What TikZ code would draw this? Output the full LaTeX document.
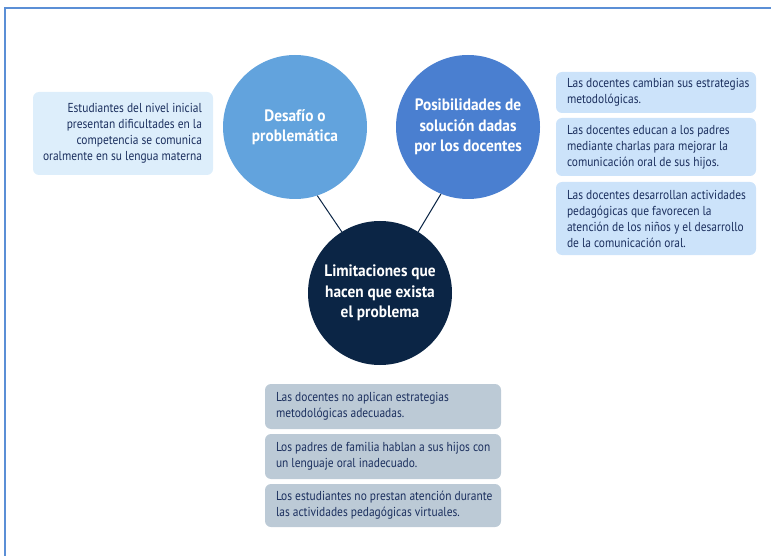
\documentclass[tikz,border=0pt]{standalone}
\usepackage{fontspec}
\setmainfont{PT Sans}[FakeStretch=0.88]
\newfontfamily\circfont{PT Sans}[FakeStretch=0.93]
\definecolor{frameblue}{HTML}{5B8FD6}
\definecolor{cone}{HTML}{62A3DD}
\definecolor{ctwo}{HTML}{4A7FD0}
\definecolor{cthree}{HTML}{0B2545}
\definecolor{navytxt}{HTML}{1B2F5E}
\definecolor{boxleft}{HTML}{DDEEFB}
\definecolor{boxright}{HTML}{CCE3FA}
\definecolor{boxbottom}{HTML}{BCCAD6}
\begin{document}
\begin{tikzpicture}[x=1pt,y=-1pt,
  bigcirc/.style={circle,minimum size=144pt,inner sep=0pt,text=white,
    font=\circfont\fontsize{16.5}{20.5}\selectfont\bfseries,align=center},
  infobox/.style={rounded corners=6pt,inner sep=0pt,text=navytxt,
    font=\fontsize{13}{16}\selectfont},
  link/.style={draw=cthree,line width=1pt}]
\useasboundingbox (0,0) rectangle (771,556);
\draw[frameblue,line width=1.2pt] (5,556) -- (5,8) -- (771,8);

\node[bigcirc,fill=cone] (c1) at (295,127) {Desafío o\\problemática};
\node[bigcirc,fill=ctwo] (c2) at (468,127) {Posibilidades de\\solución dadas\\por los docentes};
\node[bigcirc,fill=cthree] (c3) at (380,293) {Limitaciones que\\hacen que exista\\el problema};

\draw[link] (c1.-72) -- (c3.122);
\draw[link] (c2.-112) -- (c3.58);

\node[infobox,fill=boxleft,minimum width=180pt,minimum height=83pt] (l1) at (123,133.5) {};
\node[infobox,align=right,anchor=east] (l1t) at ([xshift=-11pt]l1.east) {Estudiantes del nivel inicial\\presentan dificultades en la\\competencia se comunica\\oralmente en su lengua materna};

\node[infobox,fill=boxright,minimum width=200pt,minimum height=41pt] (r1) at (656,92.5) {};
\node[infobox,align=left,anchor=west] (r1t) at ([xshift=11pt]r1.west) {Las docentes cambian sus estrategias\\metodológicas.};
\node[infobox,fill=boxright,minimum width=200pt,minimum height=58pt] (r2) at (656,147) {};
\node[infobox,align=left,anchor=west] (r2t) at ([xshift=11pt]r2.west) {Las docentes educan a los padres\\mediante charlas para mejorar la\\comunicación oral de sus hijos.};
\node[infobox,fill=boxright,minimum width=200pt,minimum height=73pt] (r3) at (656,218.5) {};
\node[infobox,align=left,anchor=west] (r3t) at ([xshift=11pt]r3.west) {Las docentes desarrollan actividades\\pedagógicas que favorecen la\\atención de los niños y el desarrollo\\de la comunicación oral.};

\node[infobox,fill=boxbottom,minimum width=236pt,minimum height=45pt] (b1) at (383,406.5) {};
\node[infobox,align=left,anchor=west] (b1t) at ([xshift=11pt]b1.west) {Las docentes no aplican estrategias\\metodológicas adecuadas.};
\node[infobox,fill=boxbottom,minimum width=236pt,minimum height=45pt] (b2) at (383,456.5) {};
\node[infobox,align=left,anchor=west] (b2t) at ([xshift=11pt]b2.west) {Los padres de familia hablan a sus hijos con\\un lenguaje oral inadecuado.};
\node[infobox,fill=boxbottom,minimum width=236pt,minimum height=43pt] (b3) at (383,505.5) {};
\node[infobox,align=left,anchor=west] (b3t) at ([xshift=11pt]b3.west) {Los estudiantes no prestan atención durante\\las actividades pedagógicas virtuales.};
\end{tikzpicture}
\end{document}
